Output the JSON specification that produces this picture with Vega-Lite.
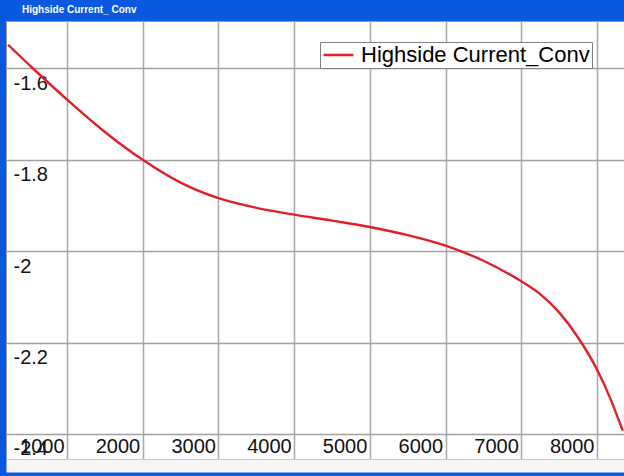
{
  "$schema": "https://vega.github.io/schema/vega-lite/v6.json",
  "width": 618,
  "height": 438,
  "autosize": {"type": "none"},
  "padding": {"left": 6, "top": 21, "right": 0, "bottom": 17},
  "background": "#0a58e0",
  "title": {
    "text": "Highside Current_ Conv",
    "anchor": "start",
    "frame": "group",
    "color": "#ffffff",
    "font": "Liberation Sans",
    "fontSize": 10,
    "fontWeight": "bold",
    "dx": 16,
    "offset": 6
  },
  "data": {
    "values": [
      {"t": 221, "current": -1.548, "series": "Highside Current_Conv"},
      {"t": 551, "current": -1.600, "series": "Highside Current_Conv"},
      {"t": 1000, "current": -1.668, "series": "Highside Current_Conv"},
      {"t": 1500, "current": -1.739, "series": "Highside Current_Conv"},
      {"t": 2000, "current": -1.800, "series": "Highside Current_Conv"},
      {"t": 2500, "current": -1.850, "series": "Highside Current_Conv"},
      {"t": 3000, "current": -1.884, "series": "Highside Current_Conv"},
      {"t": 3500, "current": -1.905, "series": "Highside Current_Conv"},
      {"t": 4000, "current": -1.920, "series": "Highside Current_Conv"},
      {"t": 4500, "current": -1.933, "series": "Highside Current_Conv"},
      {"t": 5000, "current": -1.947, "series": "Highside Current_Conv"},
      {"t": 5500, "current": -1.965, "series": "Highside Current_Conv"},
      {"t": 6000, "current": -1.988, "series": "Highside Current_Conv"},
      {"t": 6500, "current": -2.021, "series": "Highside Current_Conv"},
      {"t": 7000, "current": -2.066, "series": "Highside Current_Conv"},
      {"t": 7250, "current": -2.094, "series": "Highside Current_Conv"},
      {"t": 7500, "current": -2.134, "series": "Highside Current_Conv"},
      {"t": 7750, "current": -2.189, "series": "Highside Current_Conv"},
      {"t": 8000, "current": -2.259, "series": "Highside Current_Conv"},
      {"t": 8170, "current": -2.320, "series": "Highside Current_Conv"},
      {"t": 8340, "current": -2.393, "series": "Highside Current_Conv"}
    ]
  },
  "mark": {"type": "line", "interpolate": "monotone", "strokeWidth": 2.4, "clip": true},
  "encoding": {
    "x": {
      "field": "t",
      "type": "quantitative",
      "scale": {"domain": [194, 8357], "nice": false, "zero": false},
      "axis": {
        "title": null,
        "orient": "bottom",
        "values": [1000, 2000, 3000, 4000, 5000, 6000, 7000, 8000],
        "labelExpr": "'' + datum.value",
        "grid": true,
        "gridColor": "#a9a9a9",
        "gridWidth": 1.5,
        "ticks": false,
        "tickSize": 0,
        "offset": 6.5,
        "domain": true,
        "domainColor": "#f6f6f6",
        "domainWidth": 13,
        "labelPadding": -13.5,
        "labelBaseline": "alphabetic",
        "labelAlign": "right",
        "labelOffset": -3,
        "labelFont": "Liberation Sans",
        "labelFontSize": 20,
        "labelColor": "#111111",
        "labelFlush": false,
        "labelOverlap": false
      }
    },
    "y": {
      "field": "current",
      "type": "quantitative",
      "scale": {"domain": [-2.455, -1.496], "nice": false, "zero": false},
      "axis": {
        "title": null,
        "orient": "left",
        "values": [-1.6, -1.8, -2, -2.2, -2.4],
        "labelExpr": "'' + datum.value",
        "grid": true,
        "gridColor": "#a0a0a0",
        "gridWidth": 1.5,
        "ticks": false,
        "tickSize": 0,
        "domain": false,
        "labelPadding": -7,
        "labelAlign": "left",
        "labelBaseline": "top",
        "labelOffset": 5,
        "labelFont": "Liberation Sans",
        "labelFontSize": 20,
        "labelColor": "#111111",
        "labelFlush": false,
        "labelOverlap": false
      }
    },
    "color": {
      "field": "series",
      "type": "nominal",
      "scale": {"range": ["#e41e26"]},
      "legend": {
        "title": null,
        "orient": "none",
        "legendX": 314,
        "legendY": 21,
        "symbolType": "stroke",
        "symbolSize": 900,
        "symbolStrokeWidth": 2.5,
        "clipHeight": 22,
        "labelFont": "Liberation Sans",
        "labelFontSize": 22,
        "labelColor": "#000000",
        "labelOffset": 6,
        "labelLimit": 400,
        "padding": 2,
        "strokeColor": "#808080",
        "fillColor": "#ffffff",
        "cornerRadius": 0
      }
    }
  },
  "config": {
    "view": {"fill": "#ffffff", "stroke": "#9a9a9a", "strokeWidth": 1}
  }
}
